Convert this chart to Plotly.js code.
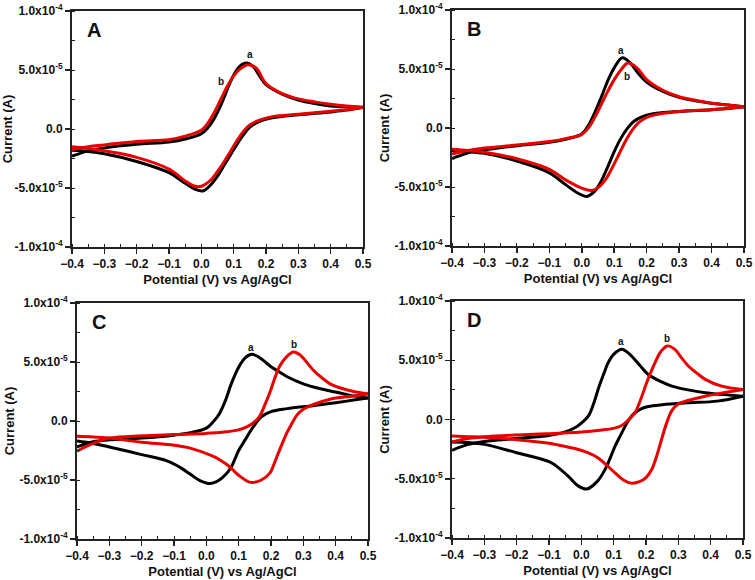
<!DOCTYPE html>
<html>
<head>
<meta charset="utf-8">
<script src="https://cdn.plot.ly/plotly-3.0.1.min.js"></script>
<style>
  body { margin: 0; background: #fff; }
  #cv { width: 755px; height: 580px; }
</style>
</head>
<body>
<div id="cv"></div>
<script>
// currents are in units of 1e-5 A, potentials in V vs Ag/AgCl
var SCALE = 1e-5;

// panel A
var A_a_E = [-0.4, -0.35, -0.3, -0.2, -0.1, -0.05, 0.0, 0.02, 0.04, 0.06, 0.075, 0.09, 0.105, 0.12, 0.14, 0.16, 0.18, 0.2, 0.25, 0.3, 0.35, 0.4, 0.45, 0.5,
             0.45, 0.4, 0.3, 0.22, 0.18, 0.15, 0.13, 0.11, 0.09, 0.07, 0.05, 0.03, 0.005, -0.02, -0.05, -0.1, -0.2, -0.3, -0.35, -0.4];
var A_a_I = [-2.3, -1.85, -1.6, -1.3, -1.1, -0.85, -0.4, 0.1, 0.9, 2.0, 3.0, 4.0, 4.8, 5.35, 5.6, 5.3, 4.5, 3.75, 2.95, 2.45, 2.15, 1.95, 1.88, 1.82,
             1.6, 1.45, 1.2, 0.95, 0.65, 0.15, -0.5, -1.3, -2.2, -3.1, -4.0, -4.7, -5.25, -5.1, -4.6, -3.7, -2.75, -2.1, -1.9, -1.8];
var A_b_E = [-0.4, -0.35, -0.3, -0.2, -0.1, -0.05, 0.0, 0.02, 0.04, 0.06, 0.08, 0.1, 0.12, 0.145, 0.17, 0.2, 0.25, 0.3, 0.35, 0.4, 0.45, 0.5,
             0.45, 0.4, 0.3, 0.22, 0.18, 0.15, 0.13, 0.11, 0.09, 0.07, 0.05, 0.03, 0.0, -0.02, -0.05, -0.1, -0.2, -0.3, -0.35, -0.4];
var A_b_I = [-1.75, -1.5, -1.35, -1.05, -0.9, -0.6, -0.1, 0.5, 1.4, 2.5, 3.6, 4.5, 5.1, 5.45, 5.15, 3.85, 3.0, 2.55, 2.3, 2.1, 1.95, 1.85,
             1.65, 1.5, 1.25, 1.05, 0.75, 0.35, -0.2, -1.0, -1.9, -2.8, -3.6, -4.3, -4.85, -4.85, -4.4, -3.4, -2.4, -1.85, -1.65, -1.5];

// panel B
var B_a_E = [-0.4, -0.35, -0.3, -0.2, -0.1, -0.05, 0.0, 0.02, 0.04, 0.06, 0.08, 0.1, 0.125, 0.15, 0.175, 0.2, 0.25, 0.3, 0.35, 0.4, 0.45, 0.5,
             0.45, 0.4, 0.3, 0.22, 0.185, 0.16, 0.14, 0.12, 0.1, 0.08, 0.06, 0.04, 0.015, -0.01, -0.05, -0.1, -0.2, -0.3, -0.35, -0.4];
var B_a_I = [-2.6, -2.1, -1.85, -1.5, -1.2, -0.95, -0.5, 0.2, 1.3, 2.6, 4.0, 5.1, 5.95, 5.5, 4.6, 3.9, 3.1, 2.6, 2.3, 2.1, 1.95, 1.8,
             1.65, 1.55, 1.4, 1.2, 0.95, 0.55, -0.05, -0.9, -2.0, -3.3, -4.5, -5.35, -5.8, -5.55, -4.8, -3.8, -2.8, -2.15, -2.0, -1.9];
var B_b_E = [-0.4, -0.35, -0.3, -0.2, -0.1, -0.05, 0.0, 0.02, 0.04, 0.06, 0.08, 0.1, 0.12, 0.143, 0.17, 0.2, 0.25, 0.3, 0.35, 0.4, 0.45, 0.5,
             0.45, 0.4, 0.3, 0.23, 0.2, 0.175, 0.155, 0.135, 0.115, 0.095, 0.075, 0.055, 0.03, 0.0, -0.05, -0.1, -0.2, -0.3, -0.35, -0.4];
var B_b_I = [-2.2, -1.9, -1.7, -1.45, -1.15, -0.9, -0.55, 0.0, 0.9, 2.0, 3.1, 4.1, 4.9, 5.5, 5.1, 4.1, 3.2, 2.65, 2.35, 2.1, 1.95, 1.8,
             1.65, 1.55, 1.4, 1.15, 0.9, 0.45, -0.2, -1.1, -2.2, -3.3, -4.3, -4.95, -5.3, -5.1, -4.4, -3.5, -2.6, -2.05, -1.9, -1.8];

// panel C
var C_a_E = [-0.4, -0.35, -0.3, -0.2, -0.1, -0.05, 0.0, 0.02, 0.04, 0.06, 0.075, 0.09, 0.105, 0.12, 0.14, 0.16, 0.18, 0.2, 0.22, 0.25, 0.3, 0.35, 0.4, 0.45, 0.5,
             0.45, 0.4, 0.33, 0.25, 0.2, 0.17, 0.145, 0.12, 0.1, 0.075, 0.05, 0.03, 0.011, -0.02, -0.05, -0.08, -0.12, -0.2, -0.3, -0.35, -0.4];
var C_a_I = [-2.2, -1.75, -1.6, -1.45, -1.2, -1.0, -0.6, -0.1, 0.6, 1.8, 3.0, 4.0, 4.8, 5.35, 5.65, 5.45, 5.05, 4.6, 4.25, 3.75, 3.15, 2.75, 2.45, 2.15, 1.95,
             1.75, 1.55, 1.3, 1.05, 0.8, 0.35, -0.5, -1.6, -2.5, -4.0, -4.8, -5.15, -5.3, -5.05, -4.5, -3.95, -3.4, -2.85, -2.2, -1.9, -1.7];
var C_b_E = [-0.4, -0.35, -0.3, -0.2, -0.1, 0.0, 0.05, 0.1, 0.125, 0.15, 0.166, 0.18, 0.197, 0.21, 0.228, 0.25, 0.269, 0.29, 0.31, 0.331, 0.36, 0.383, 0.42, 0.455, 0.5,
             0.45, 0.383, 0.331, 0.3, 0.28, 0.265, 0.249, 0.235, 0.223, 0.21, 0.197, 0.17, 0.137, 0.1, 0.073, 0.045, 0.022, -0.05, -0.1, -0.2, -0.3, -0.35, -0.4];
var C_b_I = [-2.55, -1.9, -1.45, -1.25, -1.15, -1.05, -0.95, -0.75, -0.5, -0.05, 0.45, 1.3, 2.45, 3.5, 4.7, 5.5, 5.85, 5.6, 5.0, 4.3, 3.6, 3.15, 2.75, 2.5, 2.3,
             2.1, 1.85, 1.4, 1.0, 0.5, -0.2, -1.0, -1.9, -2.7, -3.6, -4.4, -5.0, -5.2, -4.6, -3.9, -3.35, -3.0, -2.3, -2.05, -1.8, -1.45, -1.35, -1.3];

// panel D
var D_a_E = [-0.4, -0.35, -0.3, -0.2, -0.1, -0.05, -0.02, 0.0, 0.022, 0.04, 0.052, 0.07, 0.083, 0.1, 0.125, 0.15, 0.18, 0.207, 0.25, 0.28, 0.33, 0.383, 0.44, 0.5,
             0.42, 0.331, 0.25, 0.207, 0.185, 0.165, 0.15, 0.135, 0.12, 0.104, 0.09, 0.073, 0.05, 0.017, -0.01, -0.04, -0.081, -0.1, -0.2, -0.3, -0.35, -0.4];
var D_a_I = [-2.6, -2.1, -1.85, -1.6, -1.35, -1.05, -0.7, -0.3, 0.3, 1.5, 2.55, 3.9, 4.8, 5.5, 5.93, 5.5, 4.6, 3.8, 3.15, 2.82, 2.5, 2.26, 2.1, 1.97,
             1.55, 1.41, 1.25, 1.1, 0.9, 0.55, 0.1, -0.6, -1.4, -2.26, -3.2, -4.24, -5.2, -5.87, -5.6, -4.8, -3.85, -3.55, -2.8, -2.1, -1.95, -1.9];
var D_b_E = [-0.4, -0.35, -0.3, -0.2, -0.1, 0.0, 0.058, 0.1, 0.125, 0.145, 0.166, 0.185, 0.202, 0.215, 0.228, 0.245, 0.266, 0.29, 0.31, 0.331, 0.36, 0.383, 0.434, 0.5,
             0.44, 0.383, 0.33, 0.3, 0.28, 0.265, 0.25, 0.235, 0.218, 0.2, 0.18, 0.154, 0.13, 0.104, 0.08, 0.052, 0.02, -0.02, -0.081, -0.1, -0.2, -0.3, -0.35, -0.4];
var D_b_I = [-1.9, -1.6, -1.45, -1.3, -1.2, -1.05, -0.9, -0.75, -0.5, -0.05, 0.57, 1.8, 3.1, 4.0, 4.8, 5.7, 6.21, 5.9, 5.2, 4.52, 3.85, 3.39, 2.82, 2.54,
             2.25, 1.97, 1.6, 1.3, 0.75, -0.2, -1.5, -2.9, -4.2, -4.9, -5.25, -5.37, -5.1, -4.5, -3.9, -3.25, -2.8, -2.45, -2.1, -2.0, -1.7, -1.5, -1.45, -1.4];

var panelLetters = ['A', 'B', 'C', 'D'];
var curveLabels = ['a', 'b'];
// label positions (V, 1e-5 A) for "a" and "b" in each panel
var labelA_E = [0.15, 0.12, 0.138, 0.122];
var labelA_I = [6.3, 6.55, 6.25, 6.55];
var labelB_E = [0.06, 0.138, 0.271, 0.266];
var labelB_I = [4.05, 4.35, 6.45, 6.85];

var yTickVals = [-10, -5, 0, 5, 10];
var yTickText = ['-1.0x10<sup>-4</sup>', '-5.0x10<sup>-5</sup>', '0.0', '5.0x10<sup>-5</sup>', '1.0x10<sup>-4</sup>'];

var BLACK = '#000000';
var RED = '#e80000';

var panels = [
  {a: [A_a_E, A_a_I], b: [A_b_E, A_b_I], x: [72, 363], y: [11, 247]},
  {a: [B_a_E, B_a_I], b: [B_b_E, B_b_I], x: [452, 744], y: [10, 246]},
  {a: [C_a_E, C_a_I], b: [C_b_E, C_b_I], x: [77, 368], y: [303, 539]},
  {a: [D_a_E, D_a_I], b: [D_b_E, D_b_I], x: [452, 743], y: [301, 538]}
];

var W = 755, H = 580;
var traces = [];
var layout = {
  width: W, height: H,
  margin: {l: 0, r: 0, t: 0, b: 0},
  showlegend: false,
  paper_bgcolor: '#fff',
  plot_bgcolor: '#fff',
  font: {family: 'Liberation Sans, Arial, sans-serif', color: '#111'},
  annotations: []
};

// split a loop into the forward and reverse scan at the switching potential
function split(E, I) {
  var k = E.indexOf(Math.max.apply(null, E));
  return [
    [E.slice(0, k + 1), I.slice(0, k + 1)],
    [E.slice(k), I.slice(k)]
  ];
}

function addCurve(EI, color, xa, ya) {
  split(EI[0], EI[1]).forEach(function (br) {
    traces.push({
      type: 'scatter', mode: 'lines',
      x: br[0], y: br[1].map(function (v) { return v * SCALE; }),
      xaxis: xa, yaxis: ya,
      line: {color: color, width: 3, shape: 'spline', smoothing: 1},
      hoverinfo: 'skip'
    });
  });
}

panels.forEach(function (p, i) {
  var n = i === 0 ? '' : String(i + 1);
  var xa = 'x' + n, ya = 'y' + n;
  addCurve(p.a, BLACK, xa, ya);
  addCurve(p.b, RED, xa, ya);

  layout['xaxis' + n] = {
    domain: [p.x[0] / W, p.x[1] / W],
    anchor: ya,
    range: [-0.4, 0.5],
    tickvals: [-0.4, -0.3, -0.2, -0.1, 0, 0.1, 0.2, 0.3, 0.4, 0.5],
    tickformat: '.1f',
    ticks: 'outside', ticklen: 5, tickwidth: 1.5, tickcolor: '#222',
    minor: {dtick: 0.05, tick0: -0.4, ticks: 'inside', ticklen: 3, tickcolor: '#222', tickwidth: 1},
    showline: true, linecolor: '#222', linewidth: 2, mirror: true,
    showgrid: false, zeroline: false,
    tickfont: {size: 12, weight: 'bold', color: '#111'},
    title: {text: 'Potential (V) vs Ag/AgCl', font: {size: 13, weight: 'bold', color: '#111'}, standoff: 4},
    automargin: false, fixedrange: true
  };
  layout['yaxis' + n] = {
    domain: [1 - p.y[1] / H, 1 - p.y[0] / H],
    anchor: xa,
    range: [-1e-4, 1e-4],
    tickvals: yTickVals.map(function (v) { return v * SCALE; }),
    ticktext: yTickText,
    ticks: 'outside', ticklen: 5, tickwidth: 1.5, tickcolor: '#222',
    minor: {dtick: 2.5e-5, tick0: 0, ticks: 'inside', ticklen: 3, tickcolor: '#222', tickwidth: 1},
    showline: true, linecolor: '#222', linewidth: 2, mirror: true,
    showgrid: false, zeroline: false,
    tickfont: {size: 12, weight: 'bold', color: '#111'},
    title: {text: 'Current (A)', font: {size: 13, weight: 'bold', color: '#111'}, standoff: 2},
    automargin: false, fixedrange: true
  };

  layout.annotations.push({
    xref: xa + ' domain', yref: ya + ' domain',
    x: 0.045, y: 0.92, xanchor: 'left', yanchor: 'middle',
    text: panelLetters[i], showarrow: false,
    font: {size: 20, weight: 'bold', color: '#111'}
  });
  layout.annotations.push({
    xref: xa, yref: ya, x: labelA_E[i], y: labelA_I[i] * SCALE,
    text: curveLabels[0], showarrow: false,
    font: {size: 10, weight: 'bold', color: '#111'}
  });
  layout.annotations.push({
    xref: xa, yref: ya, x: labelB_E[i], y: labelB_I[i] * SCALE,
    text: curveLabels[1], showarrow: false,
    font: {size: 10, weight: 'bold', color: '#111'}
  });
});

Plotly.newPlot('cv', traces, layout, {displayModeBar: false, staticPlot: true});
</script>
</body>
</html>
